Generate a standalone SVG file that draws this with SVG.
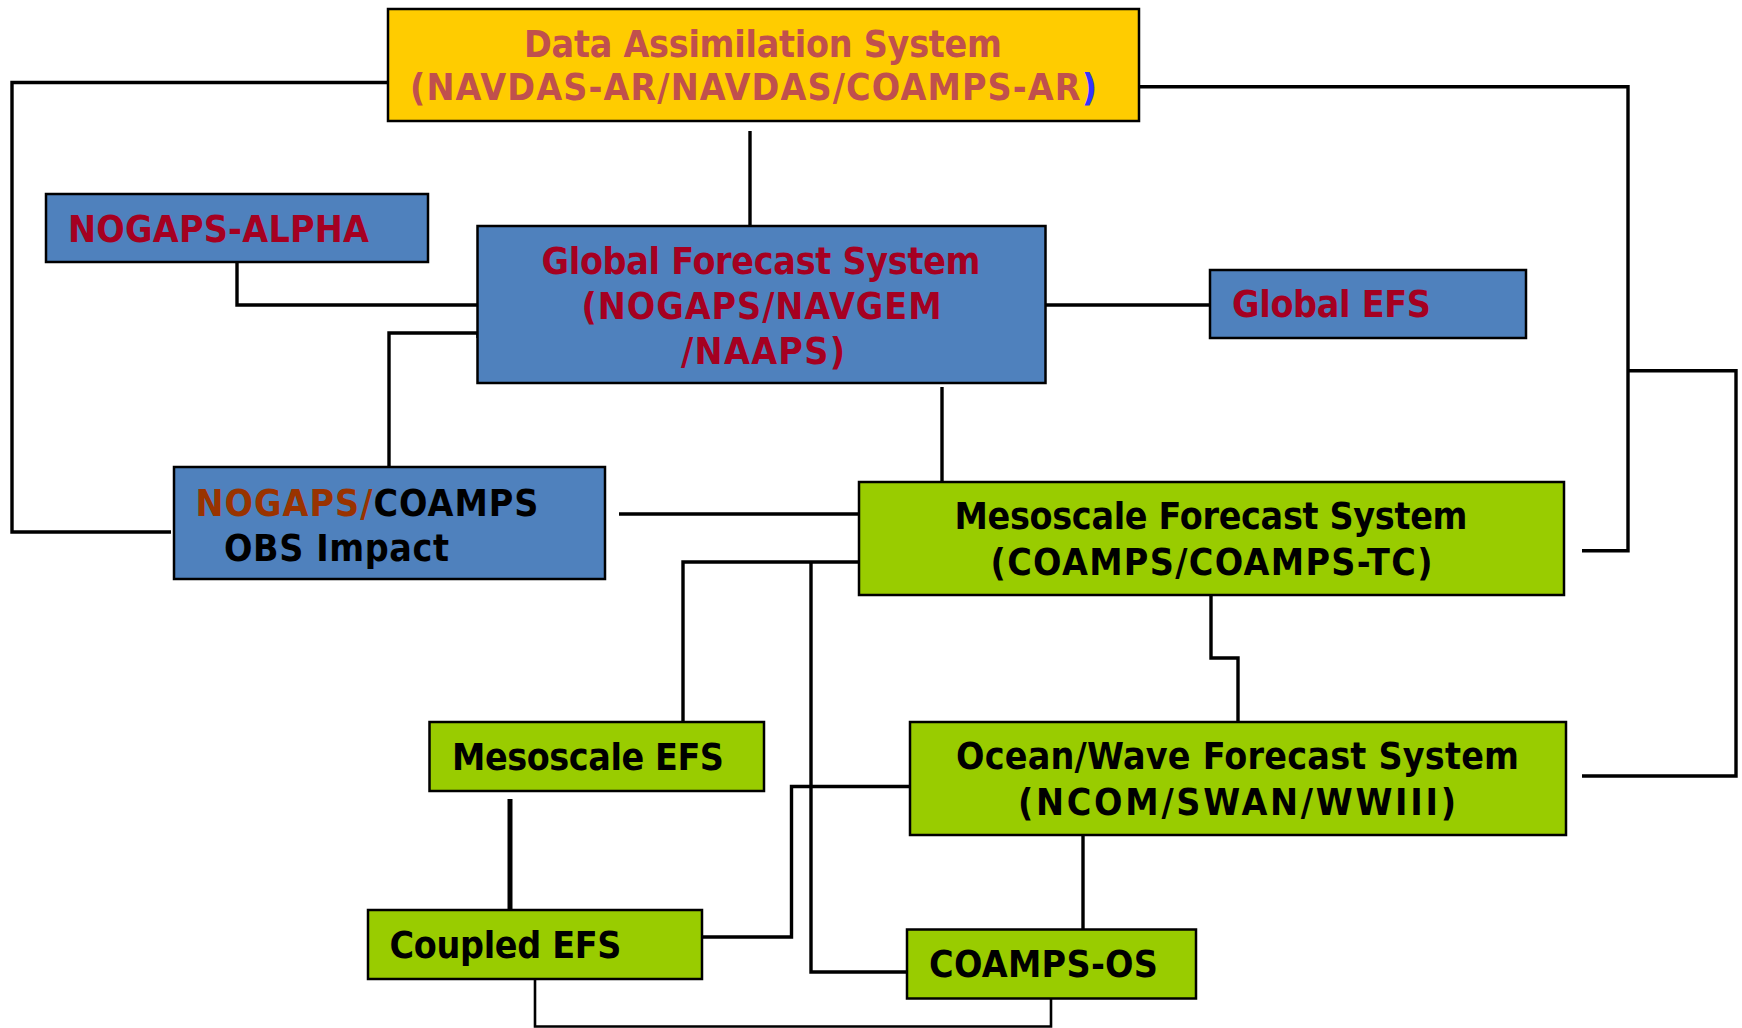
<svg xmlns="http://www.w3.org/2000/svg" width="1742" height="1028" viewBox="0 0 1742 1028">
<style>
  .box { stroke: #000; stroke-width: 2.5; }
  .blue { fill: #4F81BD; }
  .green { fill: #99CC00; }
  .yellow { fill: #FFCC00; }
  .t { font-family: "DejaVu Sans", Verdana, sans-serif; font-weight: bold; font-size: 33.5px; }
  .das { fill: #C0504D; }
  .red { fill: #A50021; }
  .blk { fill: #000; }
  .brown { fill: #993300; }
  .bl { fill: #3333FF; }
  .conn path { fill: none; stroke: #000; stroke-width: 3.4; stroke-linejoin: miter; }
</style>
<rect width="1742" height="1028" fill="#fff"/>
<g class="conn" id="connectors">
  <path d="M388,82.5 H12 V532 H171"/>
  <path d="M750,131 V226"/>
  <path d="M1139,86.7 H1628 V550.7 H1582"/>
  <path d="M1628,370.7 H1736 V776 H1582"/>
  <path d="M237,262 V305 H478"/>
  <path d="M389,468 V333 H478 V338"/>
  <path d="M1046,305 H1210"/>
  <path d="M942,387 V482"/>
  <path d="M619,514 H859"/>
  <path d="M859,562 H683 V729"/>
  <path d="M811,562 V972 H907"/>
  <path d="M1211,594 V658 H1238 V722"/>
  <path d="M510,799 V910" style="stroke-width:5"/>
  <path d="M702,937 H791.5 V786.5 H910"/>
  <path d="M1083,835 V929"/>
  <path d="M535,979 V1026.5 H1051 V999" style="stroke-width:2.6"/>
</g>
<g id="das">
  <rect class="box yellow" x="388" y="9" width="751" height="112"/>
  <text class="t das" transform="translate(524,56.7) scale(1,1.13)" textLength="478">Data Assimilation System</text>
  <text class="t das" transform="translate(410,100) scale(1,1.13)" textLength="687">(NAVDAS-AR/NAVDAS/COAMPS-AR<tspan class="bl">)</tspan></text>
</g>
<g id="nogaps-alpha">
  <rect class="box blue" x="46" y="194" width="382" height="68"/>
  <text class="t red" transform="translate(68,242) scale(1,1.13)" textLength="301">NOGAPS-ALPHA</text>
</g>
<g id="global">
  <rect class="box blue" x="477.5" y="226" width="568" height="157"/>
  <text class="t red" transform="translate(541.5,274) scale(1,1.13)" textLength="439">Global Forecast System</text>
  <text class="t red" transform="translate(581.5,319) scale(1,1.13)" textLength="360">(NOGAPS/NAVGEM</text>
  <text class="t red" transform="translate(681,364.3) scale(1,1.13)" textLength="164">/NAAPS)</text>
</g>
<g id="global-efs">
  <rect class="box blue" x="1210" y="270" width="316" height="68"/>
  <text class="t red" transform="translate(1232,317.3) scale(1,1.13)" textLength="199">Global EFS</text>
</g>
<g id="obs-impact">
  <rect class="box blue" x="174" y="467" width="431" height="112"/>
  <text class="t" transform="translate(195.5,516) scale(1,1.13)" textLength="343"><tspan class="brown">NOGAPS/</tspan><tspan class="blk">COAMPS</tspan></text>
  <text class="t blk" transform="translate(224,561) scale(1,1.13)" textLength="225">OBS Impact</text>
</g>
<g id="mesoscale">
  <rect class="box green" x="859" y="482" width="705" height="113"/>
  <text class="t blk" transform="translate(954.5,529.3) scale(1,1.13)" textLength="513">Mesoscale Forecast System</text>
  <text class="t blk" transform="translate(990.5,575) scale(1,1.13)" textLength="442">(COAMPS/COAMPS-TC)</text>
</g>
<g id="mesoscale-efs">
  <rect class="box green" x="429.5" y="722" width="334.5" height="69"/>
  <text class="t blk" transform="translate(452,770) scale(1,1.13)" textLength="272">Mesoscale EFS</text>
</g>
<g id="ocean-wave">
  <rect class="box green" x="910" y="722" width="656" height="113"/>
  <text class="t blk" transform="translate(956,769.3) scale(1,1.13)" textLength="563">Ocean/Wave Forecast System</text>
  <text class="t blk" transform="translate(1018,815) scale(1,1.13)" textLength="438">(NCOM/SWAN/WWIII)</text>
</g>
<g id="coupled-efs">
  <rect class="box green" x="368" y="910" width="334" height="69"/>
  <text class="t blk" transform="translate(389.5,958.3) scale(1,1.13)" textLength="232">Coupled EFS</text>
</g>
<g id="coamps-os">
  <rect class="box green" x="907" y="929.5" width="289" height="69"/>
  <text class="t blk" transform="translate(929,977.3) scale(1,1.13)" textLength="229">COAMPS-OS</text>
</g>
</svg>
